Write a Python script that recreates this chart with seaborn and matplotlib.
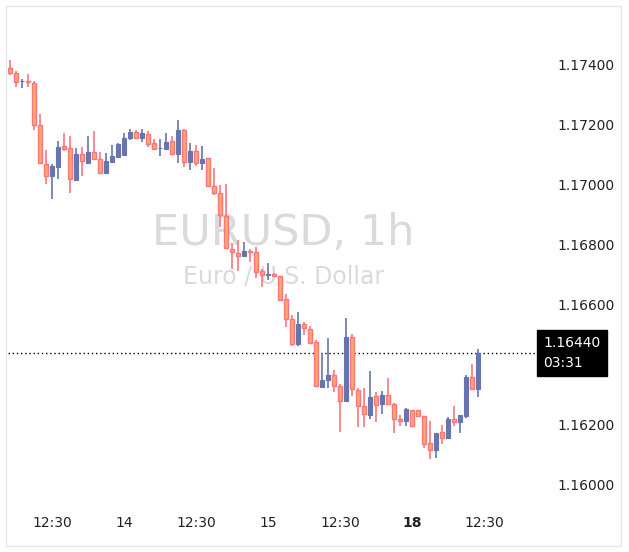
import numpy as np
import pandas as pd
import matplotlib
matplotlib.use("Agg")
import matplotlib.pyplot as plt
import seaborn as sns

# EURUSD 1h candles
opens = [1.17390, 1.17372, 1.17345, 1.17346, 1.17339, 1.17199, 1.17069, 1.17031, 1.17061, 1.17129,
         1.17122, 1.17017, 1.17102, 1.17074, 1.17109, 1.17086, 1.17041, 1.17078, 1.17094, 1.17101,
         1.17158, 1.17177, 1.17158, 1.17169, 1.17139, 1.17122, 1.17121, 1.17146, 1.17102, 1.17183,
         1.17076, 1.17112, 1.17072, 1.17089, 1.16996, 1.16972, 1.16896, 1.16786, 1.16772, 1.16762,
         1.16779, 1.16776, 1.16712, 1.16700, 1.16702, 1.16696, 1.16620, 1.16552, 1.16469, 1.16536,
         1.16519, 1.16476, 1.16326, 1.16349, 1.16366, 1.16329, 1.16279, 1.16492, 1.16316, 1.16262,
         1.16232, 1.16296, 1.16269, 1.16299, 1.16269, 1.16219, 1.16212, 1.16249, 1.16249, 1.16229,
         1.16139, 1.16116, 1.16176, 1.16156, 1.16219, 1.16209, 1.16229, 1.16359, 1.16319]
closes = [1.17373, 1.17344, 1.17347, 1.17343, 1.17199, 1.17072, 1.17031, 1.17063, 1.17126, 1.17121,
          1.17019, 1.17102, 1.17079, 1.17109, 1.17088, 1.17041, 1.17080, 1.17097, 1.17136, 1.17157,
          1.17177, 1.17158, 1.17173, 1.17138, 1.17121, 1.17123, 1.17143, 1.17102, 1.17183, 1.17076,
          1.17112, 1.17072, 1.17086, 1.16996, 1.16972, 1.16899, 1.16789, 1.16776, 1.16762, 1.16779,
          1.16776, 1.16709, 1.16699, 1.16702, 1.16696, 1.16616, 1.16552, 1.16469, 1.16536, 1.16522,
          1.16472, 1.16329, 1.16349, 1.16366, 1.16329, 1.16279, 1.16492, 1.16319, 1.16262, 1.16236,
          1.16292, 1.16266, 1.16299, 1.16269, 1.16219, 1.16212, 1.16252, 1.16196, 1.16229, 1.16136,
          1.16116, 1.16172, 1.16156, 1.16219, 1.16209, 1.16232, 1.16359, 1.16319, 1.16439]
highs = [1.17417, 1.17380, 1.17353, 1.17370, 1.17347, 1.17237, 1.17117, 1.17069, 1.17147, 1.17173,
         1.17163, 1.17123, 1.17127, 1.17163, 1.17180, 1.17109, 1.17106, 1.17133, 1.17140, 1.17173,
         1.17187, 1.17183, 1.17187, 1.17180, 1.17153, 1.17153, 1.17173, 1.17163, 1.17217, 1.17187,
         1.17140, 1.17133, 1.17130, 1.17089, 1.17056, 1.16999, 1.17003, 1.16806, 1.16817, 1.16809,
         1.16786, 1.16792, 1.16719, 1.16739, 1.16706, 1.16696, 1.16637, 1.16567, 1.16577, 1.16542,
         1.16529, 1.16483, 1.16439, 1.16489, 1.16382, 1.16336, 1.16556, 1.16502, 1.16322, 1.16322,
         1.16379, 1.16309, 1.16312, 1.16356, 1.16272, 1.16232, 1.16256, 1.16249, 1.16249, 1.16229,
         1.16212, 1.16172, 1.16199, 1.16226, 1.16262, 1.16232, 1.16366, 1.16402, 1.16453]
lows = [1.17367, 1.17328, 1.17324, 1.17328, 1.17183, 1.17072, 1.17003, 1.16953, 1.17021, 1.17114,
        1.16974, 1.17014, 1.17030, 1.17074, 1.17082, 1.17041, 1.17041, 1.17078, 1.17091, 1.17101,
        1.17150, 1.17154, 1.17143, 1.17128, 1.17119, 1.17098, 1.17121, 1.17102, 1.17072, 1.17061,
        1.17051, 1.17062, 1.17051, 1.16996, 1.16966, 1.16859, 1.16789, 1.16719, 1.16712, 1.16762,
        1.16742, 1.16689, 1.16659, 1.16682, 1.16692, 1.16612, 1.16526, 1.16462, 1.16462, 1.16501,
        1.16469, 1.16329, 1.16326, 1.16322, 1.16309, 1.16176, 1.16276, 1.16296, 1.16192, 1.16192,
        1.16219, 1.16209, 1.16236, 1.16269, 1.16172, 1.16196, 1.16196, 1.16192, 1.16229, 1.16122,
        1.16086, 1.16089, 1.16136, 1.16156, 1.16196, 1.16172, 1.16222, 1.16319, 1.16292]

time_ticks = [7, 19, 31, 43, 55, 67, 79]
time_labels = ["12:30", "14", "12:30", "15", "12:30", "18", "12:30"]
# 1.164 is hidden behind the last-price box
price_ticks = [1.160, 1.162, 1.166, 1.168, 1.170, 1.172, 1.174]
last_price = 1.16440

df = pd.DataFrame({"open": opens, "close": closes, "high": highs, "low": lows})
df["idx"] = np.arange(len(df))
df["up"] = df["close"] >= df["open"]

sns.set_theme(style="white")
plt.rcParams["font.family"] = ["DejaVu Sans"]

UP = "#6676ad"
DOWN_FILL = "#ffa76a"
DOWN_EDGE = "#f7777f"

fig = plt.figure(figsize=(6.29, 5.52), dpi=100)
ax = fig.add_axes([8 / 629, 47 / 552, 530 / 629, 500 / 552])

# wicks
for up, sub in df.groupby("up"):
    ax.vlines(sub["idx"], sub["low"], sub["high"], color=UP if up else DOWN_EDGE, lw=1.2, zorder=2)

# bodies
body = (df["close"] - df["open"]).abs().clip(lower=0.00002)
bottom = df[["open", "close"]].min(axis=1)
up = df[df["up"]]
dn = df[~df["up"]]
ax.bar(up["idx"], body[df["up"]], bottom=bottom[df["up"]], width=0.72, color=UP, edgecolor=UP, lw=0.8, zorder=3)
ax.bar(dn["idx"], body[~df["up"]], bottom=bottom[~df["up"]], width=0.72, color=DOWN_FILL, edgecolor=DOWN_EDGE, lw=1.0, zorder=3)

ax.axhline(last_price, color="black", ls=(0, (1, 2)), lw=1, zorder=1)

ax.set_xlim(-0.33, 88)
ax.set_ylim(1.15933, 1.17600)

# watermark
ax.text(0.52, 0.544, "EURUSD, 1h", transform=ax.transAxes, ha="center", va="center",
        fontsize=31, color="#d9dadd", zorder=0)
ax.text(0.52, 0.456, "Euro / U.S. Dollar", transform=ax.transAxes, ha="center", va="center",
        fontsize=17, color="#d9dadd", zorder=0)

ax.yaxis.tick_right()
ax.set_yticks(price_ticks)
ax.set_yticklabels([f"{p:.5f}" for p in price_ticks], fontsize=10, color="#222222")
ax.set_xticks(time_ticks)
ax.set_xticklabels(time_labels, fontsize=10, color="#222222")
for lab in ax.get_xticklabels():
    if lab.get_text() == "18":
        lab.set_fontweight("bold")
ax.tick_params(axis="y", length=0, pad=14)
ax.tick_params(axis="x", length=0, pad=8)
for s in ax.spines.values():
    s.set_visible(False)

# last price box
ax.annotate(f"{last_price:.5f}\n03:31", xy=(1.0, last_price), xycoords=("axes fraction", "data"),
            xytext=(4, 0), textcoords="offset points", ha="left", va="center",
            fontsize=10, color="white", linespacing=1.5,
            bbox=dict(boxstyle="square,pad=0.45", fc="black", ec="black"), annotation_clip=False)

# outer frame
fig.patches.append(plt.Rectangle((6 / 629, 6 / 552), 615 / 629, 540 / 552, transform=fig.transFigure,
                                 fill=False, ec="#e6e6e6", lw=1))

fig.savefig("out.png", dpi=100)
